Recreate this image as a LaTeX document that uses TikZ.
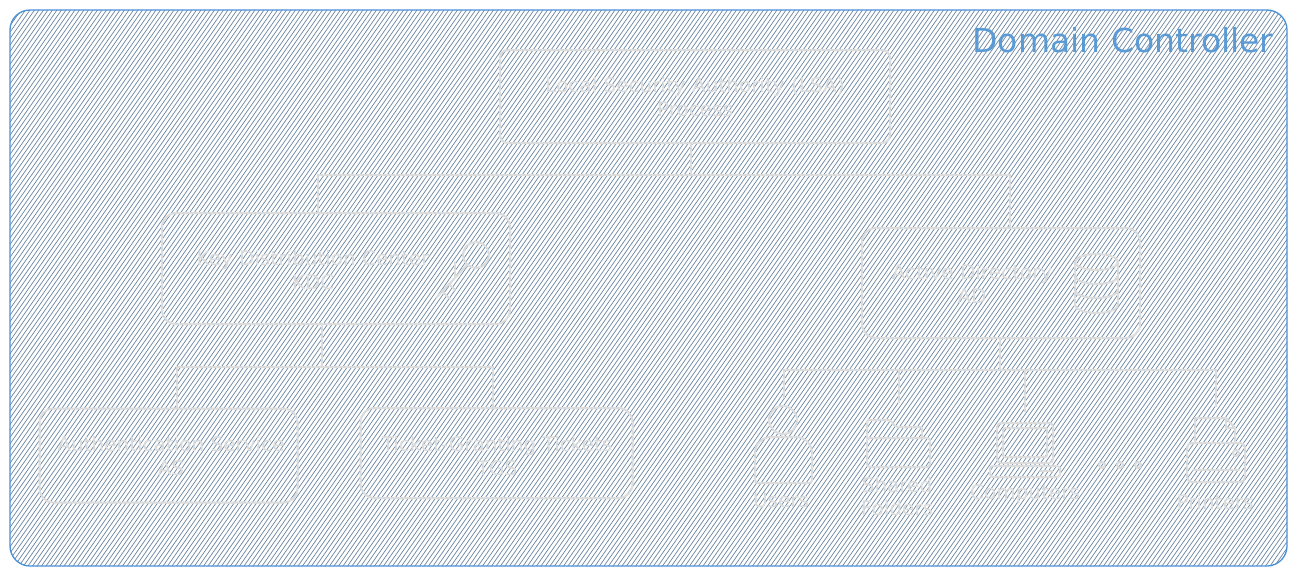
\documentclass[tikz,border=0pt]{standalone}
\usepackage{fontspec}
\setmainfont{DejaVu Sans}
\usetikzlibrary{calc}
\definecolor{hatch}{HTML}{6A86A0}
\definecolor{frame}{HTML}{4A90D9}
\definecolor{titleblue}{HTML}{5B9BD5}
\definecolor{ghost}{HTML}{DCDCDC}
\begin{document}
\begin{tikzpicture}[x=1pt,y=-1pt,
  gbox/.style={draw=ghost, line width=2, rounded corners=14, inner sep=0pt},
  gtext/.style={text=ghost, font=\fontsize{20}{24}\selectfont, align=center},
  link/.style={draw=ghost, line width=2},
  icon/.style={draw=ghost, line width=2, line join=round, line cap=round},
  iconbox/.style={inner sep=0pt, outer sep=0pt}]
\useasboundingbox (0,0) rectangle (1297,576);
\fill[white] (0,0) rectangle (1297,576);
% hatched background
\begin{scope}
  \clip[rounded corners=20] (10,10) rectangle (1287,566);
  \foreach \x in {-420,-415.5,...,1300} \draw[hatch, line width=0.7] (\x,576) -- (\x+403,0);
\end{scope}
\draw[frame, line width=1.3, rounded corners=20] (10,10) rectangle (1287,566);
\node[text=titleblue, font=\fontsize{33}{40}\selectfont] (title) at (1123,40) {Domain Controller};

% boxes
\node[gbox, minimum width=390, minimum height=93, rounded corners=8] (lsa) at (695,96.5) {};
\node[gtext] (lsat) at (695,97) {Local Security Authority (LSA)\\Process};

\node[gbox, minimum width=348, minimum height=111] (kdc) at (336,268.5) {};
\node[gtext] (kdct) at (313,270) {Key Distribution Center\\KDC};

\node[gbox, minimum width=278, minimum height=110] (ad) at (1001,283) {};
\node[gtext] (adt) at (972,284) {Active Directory\\AD};

\node[gbox, minimum width=258, minimum height=94] (as) at (168.5,455.5) {};
\node[gtext] (ast) at (171,456) {Authentication Service\\AS};

\node[gbox, minimum width=272, minimum height=90] (tgs) at (496.5,453) {};
\node[gtext] (tgst) at (497,456) {Ticket-Granting Tickets\\TGS};

% key icon (KDC)
\draw[icon] (476,255) circle (13);
\draw[icon] (467,265) -- (436,298);
\draw[icon] (442,291) -- (450,299);
\draw[icon] (449,284) -- (455,290);
\draw[icon] (455,262) -- (455,276);

% database icon (AD)
\draw[icon] (1096.5,262) ellipse [x radius=21.5, y radius=8];
\draw[icon] (1075,262) -- (1075,305);
\draw[icon] (1118,262) -- (1118,305);
\draw[icon] (1118,305) arc[start angle=0, end angle=180, x radius=21.5, y radius=8];
\draw[icon] (1118,276) arc[start angle=0, end angle=180, x radius=21.5, y radius=8];
\draw[icon] (1118,290) arc[start angle=0, end angle=180, x radius=21.5, y radius=8];

% icon placeholders
\node[iconbox, minimum width=57, minimum height=85] (users) at (783.5,440.5) {};
\node[iconbox, minimum width=63, minimum height=64] (folders) at (898.5,435) {};
\node[iconbox, minimum width=70, minimum height=65] (computers) at (1025,444.5) {};
\node[iconbox, minimum width=58, minimum height=75] (printers) at (1216,444.5) {};

% users
\draw[icon] (783,420) circle (14);
\draw[icon] (755,483) [rounded corners=16] -- (755,437) -- (812,437) [rounded corners=3] -- (812,483) -- cycle;
\node[gtext] (userst) at (781,500) {Users};

% shared folders
\draw[icon, rounded corners=2] (867,438) -- (867,420) -- (890,420) -- (896,427) -- (922,427) -- (922,438);
\draw[icon, rounded corners=3] (867,438) -- (930,438) -- (930,467) -- (867,467) -- cycle;
\node[gtext, font=\fontsize{20}{23}\selectfont] (folderst) at (897,497) {Shared\\Folders};

% computers
\draw[icon, rounded corners=4] (997,423) rectangle (1053,463);
\draw[icon, rounded corners=2] (1003,428) rectangle (1047,457);
\draw[icon, rounded corners=3] (990,466) rectangle (1060,477);
\draw[icon] (1040,471) -- (1052,471);
\node[gtext] (computerst) at (1025,494) {Computers};

% dots
\draw[icon] (1102,465) circle (3);
\draw[icon] (1120,465) circle (3);
\draw[icon] (1138,465) circle (3);

% printers
\draw[icon] (1195,443) -- (1195,418) -- (1226,418) -- (1235,428) -- (1235,443);
\draw[icon] (1226,418) -- (1226,428) -- (1235,428);
\draw[icon, rounded corners=5] (1187,443) rectangle (1245,482);
\draw[icon] (1193,470) -- (1239,470);
\draw[icon] (1236,453) circle (3);
\node[gtext] (printerst) at (1215,502) {Printers};

% connectors LSA
\coordinate (lsaout) at ([xshift=-4pt]lsa.south);
\coordinate (bus1) at (691,175);
\coordinate (kdcin) at ([xshift=-18pt]kdc.north);
\coordinate (adin) at ([xshift=9pt]ad.north);
\draw[link] (lsaout) -- (bus1);
\draw[link] (kdcin) |- (bus1) -| (adin);

% connectors KDC
\coordinate (kdcout) at ([xshift=-14pt]kdc.south);
\coordinate (bus2) at (322,367);
\coordinate (asin) at ([xshift=8.5pt]as.north);
\coordinate (tgsin) at ([xshift=-3.5pt]tgs.north);
\draw[link] (kdcout) -- (bus2);
\draw[link] (asin) |- (bus2) -| (tgsin);

% connectors AD
\coordinate (adout) at ([xshift=-1pt]ad.south);
\coordinate (bus3) at (1000,370);
\draw[link] (adout) -- (bus3);
\draw[link] (users.north) |- (bus3) -| (printers.north);
\draw[link] (folders.north) -- (folders.north |- bus3);
\draw[link] (computers.north) -- (computers.north |- bus3);
\end{tikzpicture}
\end{document}
